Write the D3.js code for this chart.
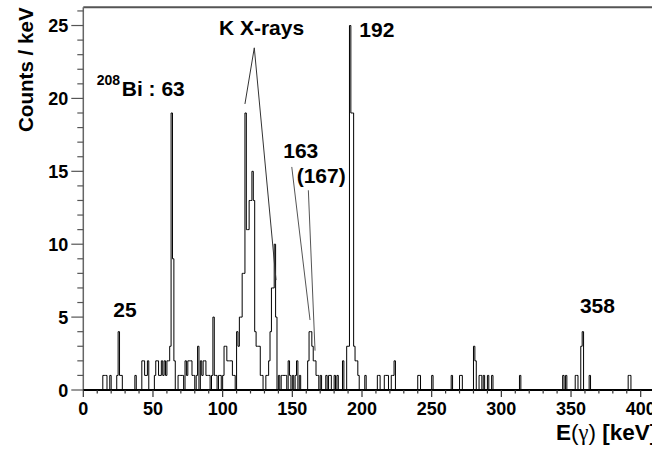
<!DOCTYPE html>
<html>
<head>
<meta charset="utf-8">
<script src="https://cdn.jsdelivr.net/npm/d3@7"></script>
<style>
  html, body { margin: 0; padding: 0; background: #fff; overflow: hidden; }
  svg { display: block; }
  text { font-family: "Liberation Sans", Arial, Helvetica, sans-serif; font-weight: bold; fill: #000; }
</style>
</head>
<body>
<svg id="chart" width="652" height="454"></svg>
<script>
// Gamma-ray spectrum, 1 keV bins: bin energy (lower edge, keV) and counts in that bin.
const binEnergy = [
  14, 15, 16, 19, 24, 25, 26, 27, 37,
  42, 43, 44, 45, 46,
  51, 52, 53, 54, 55, 56, 57, 58, 59, 60, 61,
  62, 63, 64, 65, 68, 69, 70, 71,
  73, 74, 75, 76, 77, 78, 79, 81, 82,
  84, 85, 86, 87, 88, 89, 90, 92, 93, 94, 95, 97, 98, 100,
  101, 102, 103, 104, 105, 106, 107, 108,
  110, 111, 112, 113, 114, 115, 116, 117, 118, 119, 120, 121, 122, 123, 124, 125, 126, 127, 128,
  131, 132, 133, 134, 135, 136, 137, 138,
  140, 142, 143, 144, 145, 147, 148, 150, 152, 153, 155,
  161, 162, 163, 164, 165, 166, 167, 168,
  170, 174, 176, 177, 180, 182,
  186, 189, 190, 191, 192, 193, 194, 195, 196, 197,
  202, 211, 212, 216, 217, 218, 221, 222, 223,
  240, 241, 250, 264, 270, 271, 280, 281, 284, 285, 287, 290, 293, 313,
  344, 346, 353, 354, 357, 358, 363, 391, 392
];
const binCounts = [
  1, 1, 1, 1, 1, 4, 1, 1, 1,
  2, 2, 1, 1, 2,
  1, 2, 2, 1, 1, 2, 1, 2, 1, 2, 2,
  3, 19, 9, 2, 1, 1, 1, 1,
  2, 1, 2, 2, 2, 1, 1, 1, 3,
  2, 1, 2, 2, 1, 1, 1, 1, 5, 1, 1, 1, 1, 1,
  3, 3, 2, 2, 2, 2, 1, 1,
  4, 3, 5, 5, 8, 8, 19, 11, 11, 13, 13, 15, 13, 4, 3, 3, 3, 1, 1,
  1, 1, 2, 4, 7, 7, 10, 5,
  1, 1, 1, 1, 1, 2, 1, 1, 1, 2, 1,
  2, 4, 4, 3, 2, 2, 1, 1,
  1, 1, 1, 1, 1, 1,
  2, 3, 3, 25, 19, 19, 3, 2, 2, 1,
  1, 1, 1, 1, 1, 1, 1, 1, 2,
  1, 1, 1, 1, 1, 1, 3, 2, 1, 1, 1, 1, 1, 1,
  1, 1, 1, 1, 3, 4, 1, 1, 1
];

// Axis ranges and tick values
const xRange = [0, 410];
const yRange = [0, 26.25];
const xMajorTicks = [0, 50, 100, 150, 200, 250, 300, 350, 400];
const yMajorTicks = [0, 5, 10, 15, 20, 25];

// Peak annotations (position of the text start, in keV / counts)
const peakLabels = [
  { text: "25", x: 21.5, y: 5.01 },
  { text: "192", x: 198.1, y: 24.23 },
  { text: "358", x: 356.4, y: 5.3 },
  { text: "163", x: 143.5, y: 15.89 },
  { text: "(167)", x: 153.1, y: 14.18 }
];

const svg = d3.select("#chart");
const H = 454;
const margin = { left: 83.3, top: 7.3, bottom: 64 };
const plotRight = 83.3 + 410 * 1.3935;

const x = d3.scaleLinear().domain(xRange).range([margin.left, plotRight]);
const y = d3.scaleLinear().domain(yRange).range([H - margin.bottom, margin.top]);

// Histogram as a step outline
const nBins = xRange[1] - xRange[0];
const hist = new Array(nBins).fill(0);
binEnergy.forEach((e, i) => { hist[e - xRange[0]] = binCounts[i]; });
const pts = [[xRange[0], 0]];
hist.forEach((c, i) => {
  pts.push([xRange[0] + i, c]);
  pts.push([xRange[0] + i + 1, c]);
});
pts.push([xRange[1], 0]);

svg.append("path")
  .datum(pts)
  .attr("fill", "none")
  .attr("stroke", "#000")
  .attr("stroke-width", 1)
  .attr("d", d3.line().x(d => x(d[0])).y(d => y(d[1])));

// Frame
svg.append("line").attr("x1", x(0)).attr("x2", plotRight + 5).attr("y1", y(yRange[1])).attr("y2", y(yRange[1]))
  .attr("stroke", "#555").attr("stroke-width", 2);
svg.append("line").attr("x1", x(0)).attr("x2", x(0)).attr("y1", y(0)).attr("y2", y(yRange[1]))
  .attr("stroke", "#666").attr("stroke-width", 1.5);
svg.append("line").attr("x1", x(0)).attr("x2", plotRight + 5).attr("y1", y(0)).attr("y2", y(0))
  .attr("stroke", "#000").attr("stroke-width", 2);

// Y axis: ticks pointing left, minor every count
const yAxis = svg.append("g");
d3.range(0, 27, 1).forEach(v => {
  const major = v % 5 === 0;
  yAxis.append("line").attr("x1", x(0) - (major ? 12 : 6)).attr("x2", x(0))
    .attr("y1", y(v)).attr("y2", y(v)).attr("stroke", "#555").attr("stroke-width", 1.2);
});
yAxis.selectAll("text.ytick").data(yMajorTicks).join("text")
  .attr("class", "ytick")
  .attr("x", x(0) - 15).attr("y", d => y(d) + 6.5)
  .attr("text-anchor", "end").attr("font-size", 18)
  .text(d => d);

// X axis: ticks pointing down, minor every 10 keV
const xAxis = svg.append("g");
d3.range(0, 411, 10).forEach(v => {
  const major = v % 50 === 0;
  xAxis.append("line").attr("x1", x(v)).attr("x2", x(v))
    .attr("y1", y(0)).attr("y2", y(0) + (major ? 7 : 3.5)).attr("stroke", "#333").attr("stroke-width", 1.2);
});
xAxis.selectAll("text.xtick").data(xMajorTicks).join("text")
  .attr("class", "xtick")
  .attr("x", d => x(d)).attr("y", y(0) + 25)
  .attr("text-anchor", "middle").attr("font-size", 18)
  .text(d => d);

// Axis titles
svg.append("text")
  .attr("transform", `translate(33, ${margin.top}) rotate(-90)`)
  .attr("text-anchor", "end").attr("font-size", 20.6)
  .text("Counts / keV");

const xt = svg.append("text").attr("x", 556).attr("y", 440).attr("font-size", 22.5);
xt.append("tspan").text("E");
xt.append("tspan").attr("font-weight", "normal").text("(");
xt.append("tspan").attr("font-weight", "normal").attr("font-family", "Liberation Serif, serif").text("γ");
xt.append("tspan").attr("font-weight", "normal").text(")");
xt.append("tspan").text(" [keV]");

// Peak labels
svg.selectAll("text.peak").data(peakLabels).join("text")
  .attr("class", "peak")
  .attr("x", d => x(d.x)).attr("y", d => y(d.y))
  .attr("font-size", 21)
  .text(d => d.text);

// 208Bi : 63
svg.append("text").attr("x", x(9.6)).attr("y", y(20.92)).attr("font-size", 14).text("208");
svg.append("text").attr("x", x(27.6)).attr("y", y(20.17)).attr("font-size", 21).text("Bi : 63");

// K X-rays with its two pointer lines
svg.append("text").attr("x", x(127.9)).attr("y", y(24.35)).attr("text-anchor", "middle")
  .attr("font-size", 21).text("K X-rays");
const apex = [122.7, 23.47];
[[116.0, 19.62], [138.3, 7.54]].forEach(p => {
  svg.append("line").attr("x1", x(apex[0])).attr("y1", y(apex[1]))
    .attr("x2", x(p[0])).attr("y2", y(p[1])).attr("stroke", "#333").attr("stroke-width", 1);
});

// Pointer lines for 163 and (167)
svg.append("line").attr("x1", x(149.6)).attr("y1", y(15.3)).attr("x2", x(162.7)).attr("y2", y(4.8))
  .attr("stroke", "#555").attr("stroke-width", 1);
svg.append("line").attr("x1", x(161.5)).attr("y1", y(13.7)).attr("x2", x(166.3)).attr("y2", y(2.7))
  .attr("stroke", "#555").attr("stroke-width", 1);
</script>
</body>
</html>
